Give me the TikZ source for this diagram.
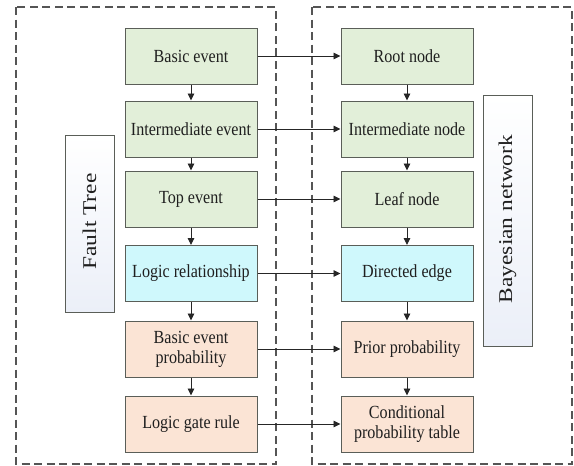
\documentclass[tikz,border=0pt]{standalone}
\usepackage{fontspec}
\setmainfont{Liberation Serif}[FakeStretch=0.87]
\newfontfamily\sidefont{Liberation Serif}[FakeStretch=1.2]
\usetikzlibrary{arrows.meta}
\definecolor{greenfill}{HTML}{E2EFD9}
\definecolor{cyanfill}{HTML}{CFF8FC}
\definecolor{peachfill}{HTML}{FBE4D5}
\definecolor{boxline}{HTML}{5A5E58}
\definecolor{dashline}{HTML}{555555}
\definecolor{sidebottom}{HTML}{EBEFF8}
\tikzset{
  x=1pt, y=-1pt,
  stagebox/.style={draw=boxline, line width=1pt, minimum width=132pt, minimum height=56pt,
    inner sep=0pt, align=center, text=black!88, font=\fontsize{18.5}{20}\selectfont},
  greenbox/.style={stagebox, fill=greenfill},
  cyanbox/.style={stagebox, fill=cyanfill},
  peachbox/.style={stagebox, fill=peachfill},
  sidebox/.style={draw=boxline, line width=1pt, top color=white, bottom color=sidebottom,
    minimum width=49pt, inner sep=0pt},
  sidetext/.style={rotate=90, text=black!88, font=\sidefont\fontsize{19.5}{22}\selectfont, inner sep=0pt},
  groupframe/.style={draw=dashline, line width=1.1pt, dash pattern=on 8pt off 4.5pt},
  flow/.style={draw=black!85, line width=0.9pt, -{Triangle[length=7pt,width=6.5pt]}},
}
\begin{document}
\begin{tikzpicture}
\useasboundingbox (0,0) rectangle (574,466);

% dashed group frames
\draw[groupframe] (16,7) rectangle (276,464);
\draw[groupframe] (312,7) rectangle (572,464);

% side labels
\node[sidebox, minimum height=177pt] (ftbox) at (89.5,223.5) {};
\node[sidetext] (ft) at (89.5,221.5) {Fault Tree};
\node[sidebox, minimum height=251pt] (bnbox) at (507.5,220.5) {};
\node[sidetext] (bn) at (507.5,219) {Bayesian network};

% fault tree column
\node[greenbox] (l1) at (191,56) {Basic event};
\node[greenbox] (l2) at (191,129) {Intermediate event};
\node[greenbox] (l3) at (191,199) {Top event};
\node[cyanbox]  (l4) at (191,273.5) {Logic relationship};
\node[peachbox] (l5) at (191,349) {Basic event\\probability};
\node[peachbox] (l6) at (191,424) {Logic gate rule};

% bayesian network column
\node[greenbox] (r1) at (407,56) {Root node};
\node[greenbox] (r2) at (407,129) {Intermediate node};
\node[greenbox] (r3) at (407,199) {Leaf node};
\node[cyanbox]  (r4) at (407,273.5) {Directed edge};
\node[peachbox] (r5) at (407,349) {Prior probability};
\node[peachbox] (r6) at (407,424) {Conditional\\probability table};

% vertical flow
\foreach \a/\b in {l1/l2,l2/l3,l3/l4,l4/l5,l5/l6,r1/r2,r2/r3,r3/r4,r4/r5,r5/r6}
  \draw[flow] (\a) -- (\b);

% mapping arrows
\foreach \i in {1,...,6}
  \draw[flow] (l\i) -- (r\i);
\end{tikzpicture}
\end{document}
